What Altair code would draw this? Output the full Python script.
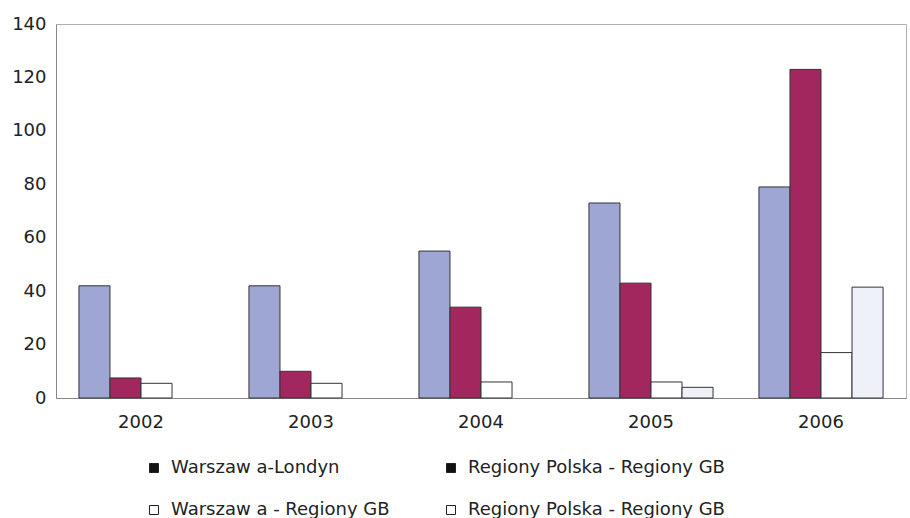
import altair as alt
import pandas as pd

# Passenger numbers by year and connection type
years = ["2002", "2003", "2004", "2005", "2006"]
series_keys = ["s1", "s2", "s3", "s4"]
series_labels = [
    "Warszaw a-Londyn",
    "Regiony Polska - Regiony GB",
    "Warszaw a - Regiony GB",
    "Regiony Polska - Regiony GB",
]
warszawa_londyn = [42, 42, 55, 73, 79]
regiony_regiony = [7.5, 10, 34, 43, 123]
warszawa_regiony = [5.5, 5.5, 6, 6, 17]
regiony_regiony_b = [0, 0, 0, 4, 41.5]

bar_colors = ["#9ea7d4", "#a3275f", "#ffffff", "#eef1f7"]
legend_fills = ["#111111", "#111111", "#ffffff", "#ffffff"]
font = "DejaVu Sans"
font_size = 18

rows = []
for key, vals in zip(series_keys, [warszawa_londyn, regiony_regiony, warszawa_regiony, regiony_regiony_b]):
    for yr, v in zip(years, vals):
        rows.append({"year": yr, "series": key, "value": v})
df = pd.DataFrame(rows)

label_expr = (
    f"datum.label == 's1' ? '{series_labels[0]}' : "
    f"datum.label == 's2' ? '{series_labels[1]}' : "
    f"datum.label == 's3' ? '{series_labels[2]}' : '{series_labels[3]}'"
)

base = alt.Chart(df)

bars = base.transform_filter(alt.datum.value > 0).mark_bar(stroke="#333333", strokeWidth=1).encode(
    x=alt.X(
        "year:N",
        sort=years,
        scale=alt.Scale(domain=years, paddingInner=0.27, paddingOuter=0.135),
        axis=alt.Axis(
            title=None, labelAngle=0, tickSize=0, labelPadding=15,
            labelFontSize=font_size, labelFont=font, labelColor="#222222",
            domainColor="#888888",
        ),
    ),
    xOffset=alt.XOffset(
        "series:N", sort=series_keys,
        scale=alt.Scale(domain=series_keys, paddingInner=0, paddingOuter=0),
    ),
    y=alt.Y(
        "value:Q",
        scale=alt.Scale(domain=[0, 140], nice=False),
        axis=alt.Axis(
            title=None, values=list(range(0, 141, 20)), tickSize=0, labelPadding=10,
            labelFontSize=font_size, labelFont=font, labelColor="#222222",
            domainColor="#888888", grid=False,
        ),
    ),
    # data-driven domain (sorted), so this hidden colour legend stays separate from the fill legend
    color=alt.Color("series:N", sort=series_keys, scale=alt.Scale(range=bar_colors), legend=None),
)

# Legend-only layer: one zero-size point per series
legend_layer = (
    base.transform_filter(alt.datum.year == years[0])
    .transform_calculate(entry="datum.series")
    .mark_square(size=0, opacity=1)
    .encode(
        fill=alt.Fill(
            "entry:N",
            scale=alt.Scale(domain=series_keys, range=legend_fills),
            legend=alt.Legend(
                title=None, orient="none", legendX=89, legendY=435, columns=2,
                direction="horizontal",
                symbolType="square", symbolSize=81, symbolStrokeColor="#222222",
                symbolStrokeWidth=1, symbolOpacity=1, labelFontSize=font_size,
                labelFont=font, labelColor="#222222", labelOffset=8,
                columnPadding=52, rowPadding=24, labelExpr=label_expr, labelLimit=400,
            ),
        ),
    )
)

chart = (
    alt.layer(bars, legend_layer)
    .properties(
        width=850, height=374,
        autosize=alt.AutoSizeParams(type="none"),
        padding={"left": 56, "top": 24, "right": 4, "bottom": 120},
        background="white",
    )
    .configure_view(stroke="#b0b0b0")
)

chart.save("out.html", embed_options={"renderer": "svg", "actions": False})
